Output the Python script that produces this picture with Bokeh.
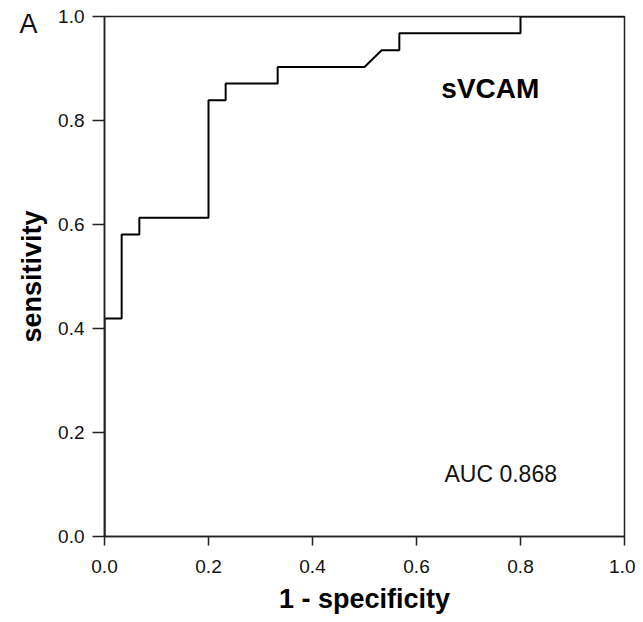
from bokeh.plotting import figure
from bokeh.models import Label, FixedTicker, Range1d, LinearAxis
from bokeh.embed import file_html
from bokeh.resources import INLINE

# ROC curve (1 - specificity, sensitivity)
fpr = [0.0, 0.0, 0.033, 0.033, 0.067, 0.067, 0.200, 0.200, 0.233, 0.233,
       0.333, 0.333, 0.500, 0.533, 0.567, 0.567, 0.800, 0.800, 1.0]
tpr = [0.0, 0.419, 0.419, 0.581, 0.581, 0.613, 0.613, 0.839, 0.839, 0.871,
       0.871, 0.903, 0.903, 0.935, 0.935, 0.968, 0.968, 1.0, 1.0]
ticks = [0.0, 0.2, 0.4, 0.6, 0.8, 1.0]
tick_labels = {t: f"{t:.1f}" for t in ticks}
title_text = "sVCAM"
auc_text = "AUC 0.868"
panel_text = "A"
panel_pos = 0.985

FONT = "Liberation Sans"

p = figure(frame_width=520, frame_height=520,
           min_border_left=104, min_border_right=11,
           min_border_top=16, min_border_bottom=78,
           x_range=Range1d(0, 1), y_range=Range1d(0, 1),
           output_backend="svg", toolbar_location=None,
           background_fill_color="white", border_fill_color="white")

p.line(fpr, tpr, line_color="black", line_width=2)

p.grid.visible = False
p.outline_line_color = "#222222"
p.outline_line_width = 1.5

for ax in (p.xaxis[0], p.yaxis[0]):
    ax.ticker = FixedTicker(ticks=ticks)
    ax.major_label_overrides = tick_labels
    ax.minor_tick_line_color = None
    ax.axis_line_color = "#222222"
    ax.axis_line_width = 1.5
    ax.major_tick_line_color = "#222222"
    ax.major_tick_line_width = 1.5
    ax.major_tick_in = 0
    ax.major_label_text_font = FONT
    ax.major_label_text_font_size = "19px"
    ax.major_label_text_color = "#111111"
    ax.axis_label_text_font = FONT
    ax.axis_label_text_font_size = "27px"
    ax.axis_label_text_font_style = "bold"
    ax.axis_label_text_color = "black"

p.xaxis.major_tick_out = 9
p.yaxis.major_tick_out = 12
p.xaxis.major_label_standoff = 14
p.yaxis.major_label_standoff = 8
p.xaxis.axis_label = "1 - specificity"
p.yaxis.axis_label = "sensitivity"
p.xaxis.axis_label_standoff = 8
p.yaxis.axis_label_standoff = 8

# panel letter drawn as the only label of an extra, otherwise invisible axis
panel_axis = LinearAxis(ticker=FixedTicker(ticks=[panel_pos]),
                        major_label_overrides={panel_pos: panel_text},
                        axis_line_color=None, major_tick_line_color=None,
                        minor_tick_line_color=None,
                        major_tick_out=0, major_tick_in=0,
                        major_label_standoff=-23,
                        major_label_text_font=FONT,
                        major_label_text_font_size="27px",
                        major_label_text_color="#111111")
p.add_layout(panel_axis, "left")

p.add_layout(Label(x=0.742, y=0.862, text=title_text, text_font=FONT,
                   text_font_size="28px", text_font_style="bold",
                   text_align="center", text_baseline="middle",
                   text_color="black"))
p.add_layout(Label(x=0.762, y=0.121, text=auc_text, text_font=FONT,
                   text_font_size="23px", text_align="center",
                   text_baseline="middle", text_color="#111111"))

open("out.html", "w").write(file_html(p, INLINE))
